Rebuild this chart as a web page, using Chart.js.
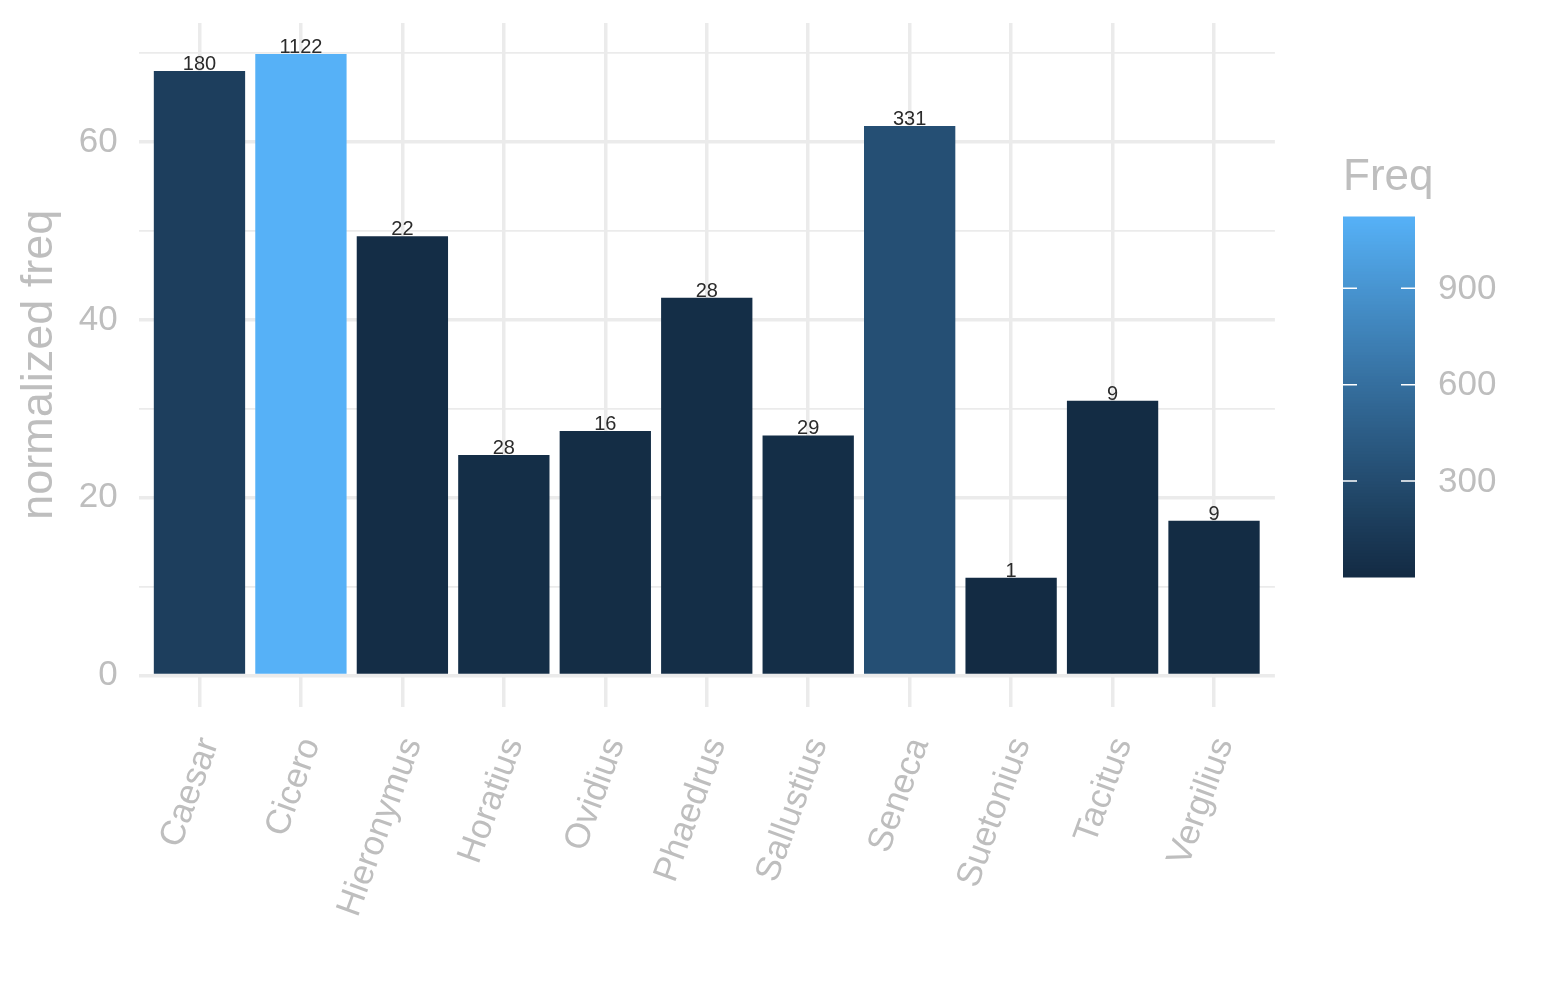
<!DOCTYPE html>
<html>
<head>
<meta charset="utf-8">
<script src="https://cdn.jsdelivr.net/npm/chart.js@4/dist/chart.umd.min.js"></script>
<style>
  body { margin: 0; background: #fff; }
  canvas { display: block; }
</style>
</head>
<body>
<canvas id="freqChart" width="1545" height="1000"></canvas>
<script>
const authors = ['Caesar', 'Cicero', 'Hieronymus', 'Horatius', 'Ovidius', 'Phaedrus',
  'Sallustius', 'Seneca', 'Suetonius', 'Tacitus', 'Vergilius'];
const normFreq = [68.0, 69.9, 49.4, 24.8, 27.5, 42.5, 27.0, 61.8, 11.0, 30.9, 17.4];
const freq = [180, 1122, 22, 28, 16, 28, 29, 331, 1, 9, 9];
const yTicks = [0, 10, 20, 30, 40, 50, 60, 70];
const legendTicks = [300, 600, 900];

const LOW = '#132B43';
const HIGH = '#56B1F7';
const GREY = '#BEBEBE';
const GRID = '#EBEBEB';
const FONT = '"Liberation Sans", Arial, Helvetica, sans-serif';

// ggplot interpolates the gradient in Lab space
function toLab(hex) {
  const c = [1, 3, 5].map(i => parseInt(hex.slice(i, i + 2), 16) / 255)
    .map(v => v <= 0.04045 ? v / 12.92 : Math.pow((v + 0.055) / 1.055, 2.4));
  const f = t => t > 0.008856 ? Math.cbrt(t) : 7.787 * t + 16 / 116;
  const x = f((c[0] * 0.4124 + c[1] * 0.3576 + c[2] * 0.1805) / 0.95047);
  const y = f(c[0] * 0.2126 + c[1] * 0.7152 + c[2] * 0.0722);
  const z = f((c[0] * 0.0193 + c[1] * 0.1192 + c[2] * 0.9505) / 1.08883);
  return [116 * y - 16, 500 * (x - y), 200 * (y - z)];
}

function fromLab(lab) {
  const fy = (lab[0] + 16) / 116, fx = fy + lab[1] / 500, fz = fy - lab[2] / 200;
  const inv = t => t * t * t > 0.008856 ? t * t * t : (t - 16 / 116) / 7.787;
  const x = inv(fx) * 0.95047, y = inv(fy), z = inv(fz) * 1.08883;
  const lin = [
    x * 3.2406 - y * 1.5372 - z * 0.4986,
    -x * 0.9689 + y * 1.8758 + z * 0.0415,
    x * 0.0557 - y * 0.2040 + z * 1.0570
  ];
  const rgb = lin.map(v => {
    const s = v <= 0.0031308 ? 12.92 * v : 1.055 * Math.pow(v, 1 / 2.4) - 0.055;
    return Math.round(Math.min(1, Math.max(0, s)) * 255);
  });
  return 'rgb(' + rgb.join(',') + ')';
}

const lowLab = toLab(LOW);
const highLab = toLab(HIGH);
const fMin = Math.min(...freq);
const fMax = Math.max(...freq);

function colorFor(v) {
  const t = (v - fMin) / (fMax - fMin);
  return fromLab(lowLab.map((l, i) => l + (highLab[i] - l) * t));
}

const barLabels = {
  id: 'barLabels',
  afterDatasetsDraw(chart) {
    const ctx = chart.ctx;
    const meta = chart.getDatasetMeta(0);
    ctx.save();
    ctx.font = '20px ' + FONT;
    ctx.fillStyle = '#2b2b2b';
    ctx.textAlign = 'center';
    ctx.textBaseline = 'alphabetic';
    meta.data.forEach((bar, i) => {
      ctx.fillText(String(freq[i]), bar.x, bar.y - 1);
    });
    ctx.restore();
  }
};

const xLabels = {
  id: 'xLabels',
  afterDraw(chart) {
    const ctx = chart.ctx;
    const xs = chart.scales.x;
    const y0 = chart.chartArea.bottom + 33;
    ctx.save();
    ctx.font = '35px ' + FONT;
    ctx.fillStyle = GREY;
    ctx.textAlign = 'right';
    ctx.textBaseline = 'middle';
    authors.forEach((name, i) => {
      ctx.save();
      ctx.translate(xs.getPixelForValue(i) + 10, y0);
      ctx.rotate(-70 * Math.PI / 180);
      ctx.fillText(name, 0, 0);
      ctx.restore();
    });
    ctx.restore();
  }
};

const colorbar = {
  id: 'colorbar',
  afterDraw(chart) {
    const ctx = chart.ctx;
    const left = 1343, right = 1415, top = 217, bottom = 577;
    const h = bottom - top;
    ctx.save();
    const bins = 120;
    for (let k = 0; k < bins; k++) {
      const v = fMin + (fMax - fMin) * (k + 0.5) / bins;
      ctx.fillStyle = colorFor(v);
      const yb = bottom - h * k / bins;
      ctx.fillRect(left, yb - h / bins - 0.5, right - left, h / bins + 1);
    }
    ctx.strokeStyle = '#ffffff';
    ctx.lineWidth = 1.5;
    ctx.font = '35px ' + FONT;
    ctx.fillStyle = GREY;
    ctx.textAlign = 'left';
    ctx.textBaseline = 'middle';
    legendTicks.forEach(v => {
      const y = bottom - h * (v - fMin) / (fMax - fMin);
      ctx.beginPath();
      ctx.moveTo(left, y);
      ctx.lineTo(left + 14, y);
      ctx.moveTo(right - 14, y);
      ctx.lineTo(right, y);
      ctx.stroke();
      ctx.fillText(String(v), 1438, y + 1);
    });
    ctx.font = '44px ' + FONT;
    ctx.textBaseline = 'alphabetic';
    ctx.fillText('Freq', 1343, 190);
    ctx.restore();
  }
};

new Chart(document.getElementById('freqChart').getContext('2d'), {
  type: 'bar',
  data: {
    datasets: [{
      data: normFreq.map((v, i) => ({ x: i, y: v })),
      backgroundColor: freq.map(colorFor),
      borderWidth: 0,
      barPercentage: 0.9,
      categoryPercentage: 1.0
    }]
  },
  options: {
    responsive: false,
    devicePixelRatio: 1,
    animation: false,
    layout: { padding: { top: 23, right: 270.1, left: 0, bottom: 0 } },
    plugins: { legend: { display: false }, tooltip: { enabled: false } },
    scales: {
      x: {
        type: 'linear',
        offset: false,
        min: -0.6,
        max: 10.6,
        afterBuildTicks: (scale) => { scale.ticks = authors.map((a, i) => ({ value: i })); },
        afterFit: (scale) => { scale.height = 293.4; },
        ticks: { display: false },
        grid: { color: GRID, lineWidth: 3.5, drawTicks: false, offset: false },
        border: { display: false }
      },
      y: {
        min: -3.495,
        max: 73.395,
        afterBuildTicks: (scale) => { scale.ticks = yTicks.map(v => ({ value: v })); },
        afterFit: (scale) => {
          scale.width = 138.6;
          scale.paddingTop = 0;
          scale.paddingBottom = 0;
        },
        ticks: {
          padding: 21,
          color: GREY,
          font: { family: FONT, size: 35 },
          callback: (v) => (v % 20 === 0 ? String(v) : '')
        },
        grid: {
          color: GRID,
          drawTicks: false,
          lineWidth: (c) => (c.tick && c.tick.value % 20 === 0 ? 3.5 : 1.75)
        },
        border: { display: false },
        title: {
          display: true,
          text: 'normalized freq',
          color: GREY,
          font: { family: FONT, size: 45 },
          padding: { top: 13, bottom: 0 }
        }
      }
    }
  },
  plugins: [barLabels, xLabels, colorbar]
});
</script>
</body>
</html>
